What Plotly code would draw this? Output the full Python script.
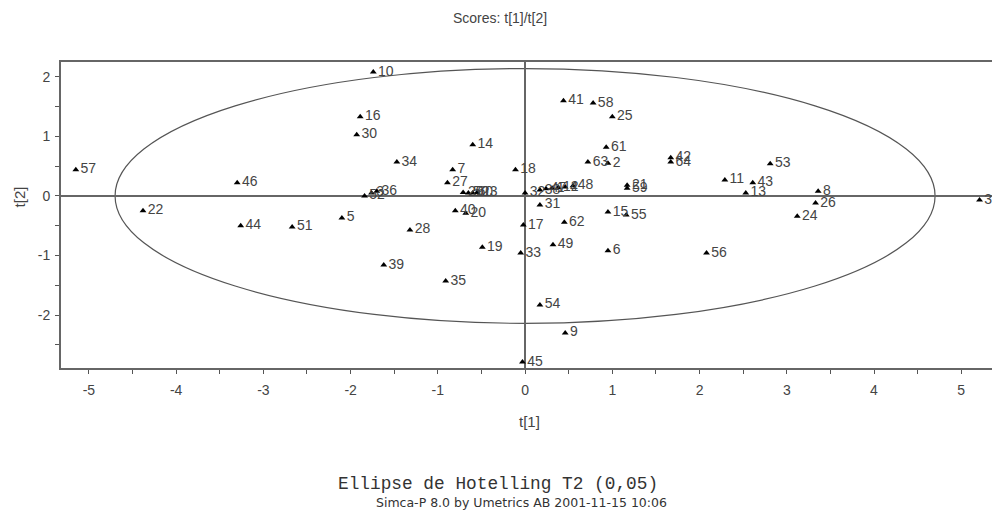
import plotly.graph_objects as go

labels = ["57", "46", "22", "44", "51", "5", "10", "16", "30", "34",
          "52", "3", "36", "28", "39", "35", "19", "14", "7", "27",
          "29", "50", "60", "23", "40", "20", "18", "32", "38", "47",
          "1", "12", "4", "48", "31", "17", "33", "45", "41", "58",
          "25", "61", "63", "2", "42", "64", "53", "11", "43", "13",
          "21", "59", "8", "26", "24", "37", "15", "55", "62", "49",
          "6", "56", "54", "9"]
t1 = [-5.15, -3.30, -4.38, -3.26, -2.67, -2.10, -1.74, -1.89, -1.93, -1.47,
      -1.84, -1.76, -1.70, -1.32, -1.62, -0.91, -0.49, -0.60, -0.83, -0.89,
      -0.71, -0.65, -0.60, -0.55, -0.80, -0.68, -0.11, 0.00, 0.17, 0.24,
      0.31, 0.38, 0.46, 0.55, 0.17, -0.02, -0.05, -0.03, 0.44, 0.78,
      1.00, 0.93, 0.72, 0.95, 1.67, 1.67, 2.81, 2.29, 2.61, 2.53,
      1.17, 1.17, 3.36, 3.33, 3.12, 5.21, 0.95, 1.16, 0.45, 0.32,
      0.95, 2.08, 0.17, 0.46]
t2 = [0.44, 0.22, -0.25, -0.50, -0.52, -0.37, 2.08, 1.33, 1.03, 0.57,
      0.00, 0.05, 0.08, -0.57, -1.16, -1.43, -0.86, 0.86, 0.44, 0.22,
      0.06, 0.05, 0.05, 0.06, -0.25, -0.29, 0.44, 0.05, 0.10, 0.12,
      0.13, 0.14, 0.15, 0.17, -0.15, -0.49, -0.96, -2.79, 1.60, 1.56,
      1.33, 0.82, 0.57, 0.55, 0.64, 0.57, 0.54, 0.27, 0.22, 0.05,
      0.18, 0.13, 0.08, -0.12, -0.34, -0.07, -0.27, -0.32, -0.44, -0.82,
      -0.92, -0.96, -1.83, -2.30]

# Hotelling T2 ellipse semi-axes
ellipse_a = 4.70
ellipse_b = 2.14

x_ticks = [-5, -4, -3, -2, -1, 0, 1, 2, 3, 4, 5]
y_ticks = [-2, -1, 0, 1, 2]

SANS = "Liberation Sans Narrow, Arial Narrow, Liberation Sans, Arial"
TXT = "#444444"

fig = go.Figure()
fig.add_shape(type="circle", xref="x", yref="y",
              x0=-ellipse_a, x1=ellipse_a, y0=-ellipse_b, y1=ellipse_b,
              line=dict(color="#555555", width=1.2), layer="below")
fig.add_trace(go.Scatter(
    x=t1, y=t2, mode="markers+text", text=labels,
    textposition="middle right",
    textfont=dict(family=SANS, size=14, color=TXT),
    marker=dict(symbol="triangle-up", size=6, color="black"),
    cliponaxis=False, showlegend=False))

axis_common = dict(
    showgrid=False, zeroline=True, zerolinecolor="#666666", zerolinewidth=2,
    showline=True, mirror=True, linecolor="#666666", linewidth=2,
    ticks="outside", ticklen=4, tickcolor="#555555", tickwidth=1,
    tickfont=dict(family=SANS, size=14, color=TXT),
    automargin=False,
)
fig.update_xaxes(range=[-5.32, 5.41], tickvals=x_ticks, ticktext=[str(v) for v in x_ticks],
                 minor=dict(dtick=0.5, ticks="outside", ticklen=4, tickcolor="#555555"),
                 ticklabelstandoff=4, **axis_common)
fig.update_yaxes(range=[-2.89, 2.25], tickvals=y_ticks, ticktext=[str(v) for v in y_ticks],
                 minor=dict(dtick=0.5, ticks="outside", ticklen=4, tickcolor="#555555"),
                 ticklabelstandoff=2, **axis_common)

fig.update_layout(
    width=992, height=507,
    margin=dict(l=53, r=3, t=54, b=147),
    plot_bgcolor="white", paper_bgcolor="white",
    title=dict(text="Scores: t[1]/t[2]", x=492 / 992, xanchor="center", xref="container",
               y=1 - 10 / 507, yref="container", yanchor="middle",
               font=dict(family=SANS, size=14, color=TXT)),
    annotations=[
        dict(text="t[1]", xref="paper", yref="paper", x=0.5, y=-0.176,
             xanchor="center", yanchor="middle", showarrow=False,
             font=dict(family=SANS, size=15, color=TXT)),
        dict(text="t[2]", xref="paper", yref="paper", x=-0.044, y=0.56,
             xanchor="center", yanchor="middle", showarrow=False, textangle=-90,
             font=dict(family=SANS, size=15, color=TXT)),
        dict(text="Ellipse de Hotelling T2 (0,05)", xref="paper", yref="paper",
             x=0.467, y=-0.379, xanchor="center", yanchor="middle", showarrow=False,
             font=dict(family="Liberation Mono, Courier New, monospace", size=17.8, color="#333333")),
        dict(text="Simca-P 8.0 by Umetrics AB 2001-11-15 10:06", xref="paper", yref="paper",
             x=0.492, y=-0.438, xanchor="center", yanchor="middle", showarrow=False,
             font=dict(family="DejaVu Sans, Verdana, sans-serif", size=12.5, color="#333333")),
    ],
)

fig.write_html("out.html")
